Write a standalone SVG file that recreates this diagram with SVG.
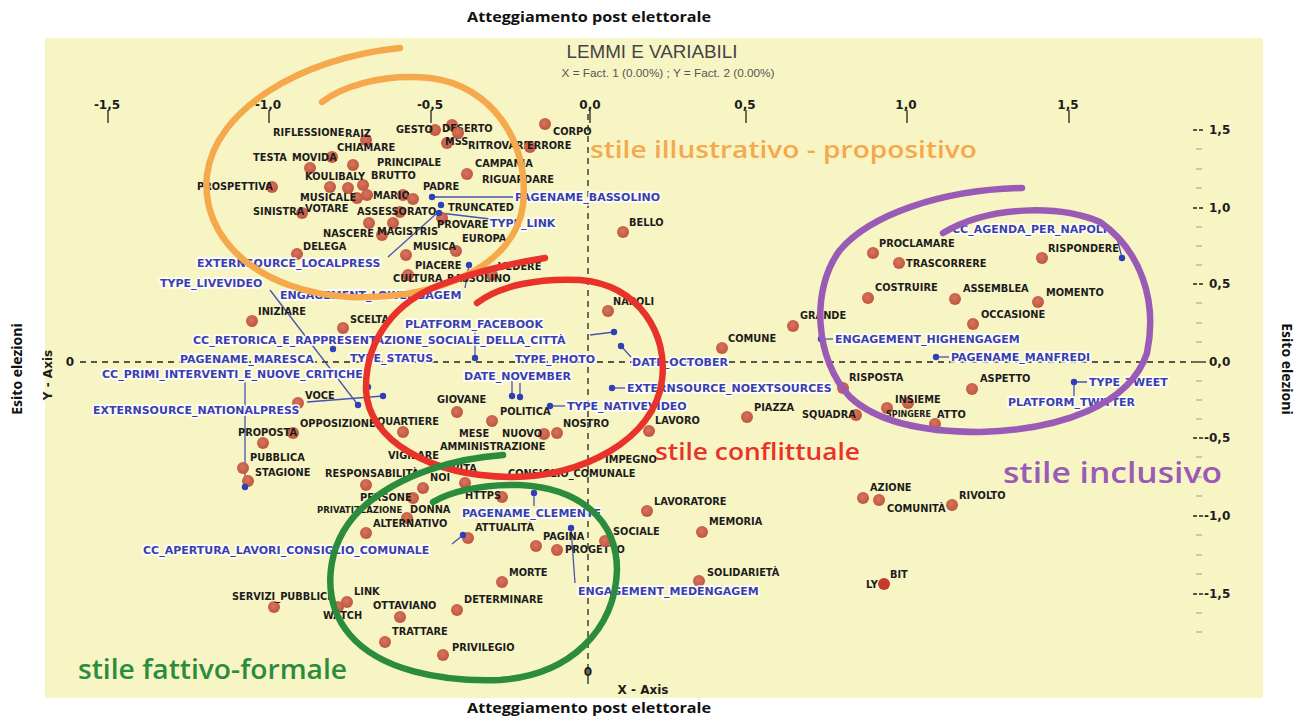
<svg xmlns="http://www.w3.org/2000/svg" width="1299" height="717" viewBox="0 0 1299 717">
<style>
.bg{fill:#f8f5c4}
.d{fill:url(#dg)}
.bd{fill:#2f3fb8}
.t{font-family:"DejaVu Sans",Verdana,sans-serif;font-weight:bold;font-size:9.8px;fill:#1c1c1c}
.v{font-family:"DejaVu Sans",Verdana,sans-serif;font-weight:bold;font-size:11px;fill:#3a3fb0;stroke:#ffffff;stroke-width:3.5px;stroke-opacity:.85;stroke-linejoin:round;paint-order:stroke}
.ln{stroke:#4652b4;stroke-width:1.3;fill:none}
.ax{stroke:#222;stroke-width:1.3;fill:none}
.dash{stroke:#222;stroke-width:1.3;stroke-dasharray:6 5;fill:none}
.tk{font-family:"DejaVu Sans",Verdana,sans-serif;font-weight:bold;font-size:12px;fill:#1c1c1c}
.ttl{font-family:"Open Sans",sans-serif;font-weight:bold;font-size:14px;fill:#111}
.st{font-family:"Open Sans",sans-serif;font-weight:600}
.loop{fill:none;stroke-width:6.5;stroke-linecap:round}
</style>
<defs>
<radialGradient id="dg" cx="0.45" cy="0.4" r="0.6">
<stop offset="0" stop-color="#d8745c"/>
<stop offset="1" stop-color="#bf5540"/>
</radialGradient>
</defs>
<rect x="0" y="0" width="1299" height="717" fill="#ffffff"/>
<rect class="bg" x="45" y="38" width="1218" height="660"/>

<!-- outer labels -->
<text class="ttl" x="589" y="22" text-anchor="middle" textLength="244" lengthAdjust="spacingAndGlyphs">Atteggiamento post elettorale</text>
<text class="ttl" x="589" y="713" text-anchor="middle" textLength="244" lengthAdjust="spacingAndGlyphs">Atteggiamento post elettorale</text>
<text class="ttl" transform="translate(22,369) rotate(-90)" text-anchor="middle">Esito elezioni</text>
<text class="ttl" transform="translate(1282,369) rotate(90)" text-anchor="middle">Esito elezioni</text>

<!-- title -->
<text x="652" y="58" text-anchor="middle" font-family="Liberation Sans, Arial, sans-serif" font-size="18" fill="#444" textLength="171" lengthAdjust="spacingAndGlyphs">LEMMI E VARIABILI</text>
<text x="668" y="77" text-anchor="middle" font-family="Liberation Sans, Arial, sans-serif" font-size="11" fill="#555" textLength="213" lengthAdjust="spacingAndGlyphs">X = Fact. 1 (0.00%) ; Y = Fact. 2 (0.00%)</text>

<!-- axes -->
<g id="axes">
<g class="tk" text-anchor="middle">
<text x="107" y="109">-1,5</text>
<text x="268" y="109">-1,0</text>
<text x="430" y="109">-0,5</text>
<text x="590" y="109">0,0</text>
<text x="745" y="109">0,5</text>
<text x="906" y="109">1,0</text>
<text x="1068" y="109">1,5</text>
</g>
<path class="ax" d="M108,110V123M269,110V123M431,110V123M590,110V123M746,110V123M907,110V123M1069,110V123"/>
<path class="dash" d="M80,362H1192"/>
<path class="ax" d="M1192,362H1206"/>
<path class="dash" d="M588,114V664"/>
<path class="ax" d="M588,664V684"/>
<text class="tk" x="70" y="366" text-anchor="middle" font-size="11">0</text>
<text class="tk" x="52" y="375" font-size="10.5" text-anchor="middle" transform="rotate(-90 52 375)">Y - Axis</text>
<text class="tk" x="643" y="694" font-size="10.5" text-anchor="middle">X - Axis</text>
<text class="tk" x="588" y="676" font-size="10.5" text-anchor="middle">0</text>
<path class="ax" d="M1193,130h4M1199,130h4M1193,208h4M1199,208h4M1193,284h4M1199,284h4M1193,438h4M1199,438h4M1193,516h4M1199,516h4M1193,594h4M1199,594h4"/>
<path stroke="#999" stroke-width="1" d="M1196,149h6M1196,169h6M1196,188h6M1196,227h6M1196,246h6M1196,265h6M1196,303h6M1196,323h6M1196,342h6M1196,381h6M1196,400h6M1196,419h6M1196,457h6M1196,477h6M1196,496h6M1196,535h6M1196,555h6M1196,574h6M1196,613h6M1196,632h6"/>
<g class="tk" font-size="11.5">
<text x="1209" y="134">1,5</text>
<text x="1209" y="212">1,0</text>
<text x="1209" y="288">0,5</text>
<text x="1209" y="366">0,0</text>
<text x="1204" y="442">-0,5</text>
<text x="1204" y="520">-1,0</text>
<text x="1204" y="598">-1,5</text>
</g>
</g>

<!-- connectors -->
<g id="connectors">
<path class="ln" d="M432,197H513"/>
<path class="ln" d="M440,213L490,219"/>
<path class="ln" d="M436,214L388,257"/>
<path class="ln" d="M270,290L358,405"/>
<path class="ln" d="M475,331V358"/>
<path class="ln" d="M590,335L614,332"/>
<path class="ln" d="M245,382V487"/>
<path class="ln" d="M512,381V396M520,383V397"/>
<path class="ln" d="M307,402L383,396"/>
<path class="ln" d="M550,406H565"/>
<path class="ln" d="M621,346L631,357"/>
<path class="ln" d="M612,388H625"/>
<path class="ln" d="M821,339H833"/>
<path class="ln" d="M936,357H949"/>
<path class="ln" d="M1116,234L1122,258"/>
<path class="ln" d="M1074,382H1087M1074,382V396"/>
<path class="ln" d="M534,493V506"/>
<path class="ln" d="M452,544L463,535"/>
<path class="ln" d="M571,528L575,583"/>
<path class="ln" d="M469,265L465,288"/>
</g>

<!-- lemma points -->
<g id="p-riflessione"><text class="t" x="273" y="135.5">RIFLESSIONE</text></g>
<g id="p-raiz"><circle class="d" cx="366" cy="140" r="6"/><text class="t" x="345" y="136.5">RAIZ</text></g>
<g id="p-chiamare"><circle class="d" cx="353" cy="165" r="6"/><text class="t" x="337" y="150.5">CHIAMARE</text></g>
<g id="p-testa"><circle class="d" cx="310" cy="168" r="6"/><text class="t" x="253" y="160.5">TESTA</text></g>
<g id="p-movida"><circle class="d" cx="332" cy="157" r="6"/><text class="t" x="292" y="160.5">MOVIDA</text></g>
<g id="p-principale"><circle class="d" cx="363" cy="185" r="6"/><text class="t" x="377" y="165.5">PRINCIPALE</text></g>
<g id="p-koulibaly"><circle class="d" cx="330" cy="187" r="6"/><text class="t" x="305" y="179.5">KOULIBALY</text></g>
<g id="p-brutto"><circle class="d" cx="348" cy="188" r="6"/><text class="t" x="371" y="178.5">BRUTTO</text></g>
<g id="p-prospettiva"><circle class="d" cx="272" cy="187" r="6"/><text class="t" x="197" y="189.5">PROSPETTIVA</text></g>
<g id="p-musicale"><circle class="d" cx="357" cy="198" r="6"/><text class="t" x="300" y="200.5">MUSICALE</text></g>
<g id="p-mario"><circle class="d" cx="403" cy="195" r="6"/><circle class="d" cx="367" cy="195" r="6"/><text class="t" x="373" y="198.5">MARIO</text></g>
<g id="p-padre"><circle class="d" cx="413" cy="199" r="6"/><text class="t" x="423" y="189.5">PADRE</text></g>
<g id="p-sinistra"><circle class="d" cx="302" cy="213" r="6"/><text class="t" x="253" y="214.5">SINISTRA</text></g>
<g id="p-votare"><circle class="d" cx="369" cy="223" r="6"/><text class="t" x="305" y="211.5">VOTARE</text></g>
<g id="p-assessorato"><circle class="d" cx="400" cy="212" r="6"/><text class="t" x="357" y="214.5">ASSESSORATO</text></g>
<g id="p-nascere"><circle class="d" cx="393" cy="223" r="6"/><text class="t" x="323" y="236.5">NASCERE</text></g>
<g id="p-magistris"><circle class="d" cx="382" cy="235" r="6"/><text class="t" x="377" y="234.5">MAGISTRIS</text></g>
<g id="p-delega"><circle class="d" cx="297" cy="254" r="6"/><text class="t" x="303" y="249.5">DELEGA</text></g>
<g id="p-musica"><circle class="d" cx="456" cy="251" r="6"/><text class="t" x="413" y="249.5">MUSICA</text></g>
<g id="p-piacere"><circle class="d" cx="406" cy="255" r="6"/><text class="t" x="415" y="268.5">PIACERE</text></g>
<g id="p-cultura"><circle class="d" cx="408" cy="275" r="6"/><text class="t" x="393" y="281.5">CULTURA</text></g>
<g id="p-bassolino"><circle class="d" cx="492" cy="275" r="6"/><text class="t" x="447" y="281.5">BASSOLINO</text></g>
<g id="p-gesto"><circle class="d" cx="435" cy="130" r="6"/><text class="t" x="396" y="132.5">GESTO</text></g>
<g id="p-deserto"><circle class="d" cx="452" cy="125" r="6"/><text class="t" x="442" y="131.5">DESERTO</text></g>
<g id="p-mss"><circle class="d" cx="447" cy="143" r="6"/><text class="t" x="445" y="144.5">MSS</text></g>
<g id="p-ritrovare"><circle class="d" cx="458" cy="133" r="6"/><text class="t" x="468" y="148.5">RITROVARE</text></g>
<g id="p-errore"><circle class="d" cx="530" cy="147" r="6"/><text class="t" x="527" y="148.5">ERRORE</text></g>
<g id="p-corpo"><circle class="d" cx="545" cy="124" r="6"/><text class="t" x="553" y="134.5">CORPO</text></g>
<g id="p-campania"><text class="t" x="475" y="166.5">CAMPANIA</text></g>
<g id="p-riguardare"><circle class="d" cx="467" cy="174" r="6"/><text class="t" x="482" y="182.5">RIGUARDARE</text></g>
<g id="p-truncated"><circle class="bd" cx="441" cy="205" r="3.2"/><text class="t" x="448" y="210.5">TRUNCATED</text></g>
<g id="p-provare"><circle class="d" cx="442" cy="218" r="6"/><text class="t" x="437" y="227.5">PROVARE</text></g>
<g id="p-europa"><text class="t" x="462" y="241.5">EUROPA</text></g>
<g id="p-vedere"><text class="t" x="498" y="269.5">VEDERE</text></g>
<g id="p-bello"><circle class="d" cx="623" cy="232" r="6"/><text class="t" x="629" y="225.5">BELLO</text></g>
<g id="p-iniziare"><circle class="d" cx="252" cy="321" r="6"/><text class="t" x="258" y="314.5">INIZIARE</text></g>
<g id="p-scelta"><circle class="d" cx="343" cy="328" r="6"/><text class="t" x="350" y="322.5">SCELTA</text></g>
<g id="p-voce"><circle class="d" cx="298" cy="403" r="6"/><text class="t" x="305" y="398.5">VOCE</text></g>
<g id="p-opposizione"><text class="t" x="300" y="426.5">OPPOSIZIONE</text></g>
<g id="p-quartiere"><circle class="d" cx="403" cy="432" r="6"/><text class="t" x="377" y="424.5">QUARTIERE</text></g>
<g id="p-proposta"><circle class="d" cx="293" cy="433" r="6"/><text class="t" x="238" y="435.5">PROPOSTA</text></g>
<g id="p-pubblica"><circle class="d" cx="263" cy="443" r="6"/><text class="t" x="250" y="460.5">PUBBLICA</text></g>
<g id="p-stagione"><circle class="d" cx="243" cy="468" r="6"/><circle class="d" cx="248" cy="481" r="6"/><text class="t" x="255" y="475.5">STAGIONE</text></g>
<g id="p-giovane"><circle class="d" cx="457" cy="412" r="6"/><text class="t" x="437" y="402.5">GIOVANE</text></g>
<g id="p-politica"><circle class="d" cx="492" cy="421" r="6"/><text class="t" x="500" y="414.5">POLITICA</text></g>
<g id="p-nostro"><circle class="d" cx="557" cy="433" r="6"/><text class="t" x="563" y="426.5">NOSTRO</text></g>
<g id="p-mese"><text class="t" x="459" y="436.5">MESE</text></g>
<g id="p-nuovo"><circle class="d" cx="544" cy="434" r="6"/><text class="t" x="502" y="436.5">NUOVO</text></g>
<g id="p-amministrazione"><text class="t" x="440" y="449.5">AMMINISTRAZIONE</text></g>
<g id="p-vigilare"><text class="t" x="388" y="458.5">VIGILARE</text></g>
<g id="p-responsabilita"><circle class="d" cx="366" cy="485" r="6"/><text class="t" x="325" y="476.5">RESPONSABILITÀ</text></g>
<g id="p-noi"><circle class="d" cx="423" cy="488" r="6"/><text class="t" x="430" y="480.5">NOI</text></g>
<g id="p-vita"><circle class="d" cx="465" cy="483" r="6"/><text class="t" x="452" y="471.5">VITA</text></g>
<g id="p-consiglio"><text class="t" x="508" y="476.5">CONSIGLIO_COMUNALE</text></g>
<g id="p-impegno"><text class="t" x="605" y="462.5">IMPEGNO</text></g>
<g id="p-https"><circle class="d" cx="502" cy="497" r="6"/><text class="t" x="465" y="498.5">HTTPS</text></g>
<g id="p-persone"><circle class="d" cx="413" cy="498" r="6"/><text class="t" x="360" y="500.5">PERSONE</text></g>
<g id="p-privatizzazione"><circle class="d" cx="366" cy="533" r="6"/><text class="t" x="317" y="512.5" style="font-size:8.5px">PRIVATIZZAZIONE</text></g>
<g id="p-donna"><text class="t" x="410" y="512.5">DONNA</text></g>
<g id="p-alternativo"><circle class="d" cx="407" cy="518" r="6"/><text class="t" x="373" y="526.5">ALTERNATIVO</text></g>
<g id="p-attualita"><circle class="d" cx="468" cy="538" r="6"/><text class="t" x="475" y="530.5">ATTUALITÀ</text></g>
<g id="p-pagina"><circle class="d" cx="536" cy="546" r="6"/><text class="t" x="543" y="539.5">PAGINA</text></g>
<g id="p-progetto"><circle class="d" cx="557" cy="550" r="6"/><text class="t" x="565" y="552.5">PROGETTO</text></g>
<g id="p-sociale"><circle class="d" cx="605" cy="541" r="6"/><text class="t" x="613" y="534.5">SOCIALE</text></g>
<g id="p-lavoratore"><circle class="d" cx="647" cy="511" r="6"/><text class="t" x="654" y="504.5">LAVORATORE</text></g>
<g id="p-memoria"><circle class="d" cx="702" cy="532" r="6"/><text class="t" x="709" y="524.5">MEMORIA</text></g>
<g id="p-solidarieta"><circle class="d" cx="699" cy="581" r="6"/><text class="t" x="707" y="575.5">SOLIDARIETÀ</text></g>
<g id="p-morte"><circle class="d" cx="502" cy="582" r="6"/><text class="t" x="509" y="575.5">MORTE</text></g>
<g id="p-determinare"><circle class="d" cx="457" cy="610" r="6"/><text class="t" x="464" y="602.5">DETERMINARE</text></g>
<g id="p-servizi"><circle class="d" cx="274" cy="607" r="6"/><text class="t" x="232" y="599.5">SERVIZI_PUBBLICI</text></g>
<g id="p-link"><circle class="d" cx="347" cy="602" r="6"/><text class="t" x="354" y="594.5">LINK</text></g>
<g id="p-watch"><circle class="d" cx="338" cy="607" r="6"/><text class="t" x="323" y="618.5">WATCH</text></g>
<g id="p-ottaviano"><circle class="d" cx="400" cy="617" r="6"/><text class="t" x="373" y="608.5">OTTAVIANO</text></g>
<g id="p-trattare"><circle class="d" cx="385" cy="642" r="6"/><text class="t" x="392" y="634.5">TRATTARE</text></g>
<g id="p-privilegio"><circle class="d" cx="443" cy="655" r="6"/><text class="t" x="452" y="650.5">PRIVILEGIO</text></g>
<g id="p-napoli"><circle class="d" cx="608" cy="311" r="6"/><text class="t" x="613" y="304.5">NAPOLI</text></g>
<g id="p-comune"><circle class="d" cx="722" cy="348" r="6"/><text class="t" x="728" y="341.5">COMUNE</text></g>
<g id="p-grande"><circle class="d" cx="793" cy="326" r="6"/><text class="t" x="800" y="318.5">GRANDE</text></g>
<g id="p-lavoro"><circle class="d" cx="649" cy="431" r="6"/><text class="t" x="655" y="423.5">LAVORO</text></g>
<g id="p-piazza"><circle class="d" cx="747" cy="417" r="6"/><text class="t" x="754" y="410.5">PIAZZA</text></g>
<g id="p-squadra"><circle class="d" cx="856" cy="415" r="6"/><text class="t" x="802" y="417.5">SQUADRA</text></g>
<g id="p-risposta"><circle class="d" cx="843" cy="388" r="6"/><text class="t" x="849" y="380.5">RISPOSTA</text></g>
<g id="p-proclamare"><circle class="d" cx="873" cy="253" r="6"/><text class="t" x="879" y="246.5">PROCLAMARE</text></g>
<g id="p-rispondere"><circle class="d" cx="1042" cy="258" r="6"/><text class="t" x="1048" y="251.5">RISPONDERE</text></g>
<g id="p-trascorrere"><circle class="d" cx="899" cy="263" r="6"/><text class="t" x="906" y="266.5">TRASCORRERE</text></g>
<g id="p-costruire"><circle class="d" cx="868" cy="298" r="6"/><text class="t" x="875" y="290.5">COSTRUIRE</text></g>
<g id="p-assemblea"><circle class="d" cx="955" cy="299" r="6"/><text class="t" x="963" y="291.5">ASSEMBLEA</text></g>
<g id="p-momento"><circle class="d" cx="1038" cy="302" r="6"/><text class="t" x="1046" y="295.5">MOMENTO</text></g>
<g id="p-occasione"><circle class="d" cx="973" cy="324" r="6"/><text class="t" x="981" y="317.5">OCCASIONE</text></g>
<g id="p-aspetto"><circle class="d" cx="972" cy="389" r="6"/><text class="t" x="980" y="381.5">ASPETTO</text></g>
<g id="p-insieme"><circle class="d" cx="908" cy="403" r="6"/><text class="t" x="895" y="402.5">INSIEME</text></g>
<g id="p-spingere"><circle class="d" cx="887" cy="408" r="6"/><text class="t" x="886" y="416.5" style="font-size:8px">SPINGERE</text></g>
<g id="p-atto"><circle class="d" cx="935" cy="424" r="6"/><text class="t" x="937" y="417.5">ATTO</text></g>
<g id="p-azione"><circle class="d" cx="863" cy="498" r="6"/><text class="t" x="870" y="490.5">AZIONE</text></g>
<g id="p-comunita"><circle class="d" cx="879" cy="500" r="6"/><text class="t" x="887" y="511.5">COMUNITÀ</text></g>
<g id="p-rivolto"><circle class="d" cx="952" cy="505" r="6"/><text class="t" x="959" y="498.5">RIVOLTO</text></g>
<g id="p-bit"><circle cx="884" cy="584" r="6" fill="#c43a30"/><text class="t" x="890" y="577.5">BIT</text></g>
<g id="p-ly"><text class="t" x="866" y="587.5">LY</text></g>

<!-- variable points -->
<g id="v-bassolino"><circle class="bd" cx="432" cy="197" r="3.2"/><text class="v" x="515" y="201">PAGENAME_BASSOLINO</text></g>
<g id="v-link"><circle class="bd" cx="439" cy="213" r="3.2"/><text class="v" x="490" y="227">TYPE_LINK</text></g>
<g id="v-localpress"><text class="v" x="197" y="267">EXTERNSOURCE_LOCALPRESS</text></g>
<g id="v-livevideo"><circle class="bd" cx="358" cy="405" r="3.2"/><text class="v" x="160" y="287">TYPE_LIVEVIDEO</text></g>
<g id="v-lowengagem"><circle class="bd" cx="469" cy="265" r="3.2"/><text class="v" x="280" y="299">ENGAGEMENT_LOWENGAGEM</text></g>
<g id="v-facebook"><circle class="bd" cx="475" cy="358" r="3.2"/><text class="v" x="405" y="328">PLATFORM_FACEBOOK</text></g>
<g id="v-retorica"><circle class="bd" cx="614" cy="332" r="3.2"/><text class="v" x="193" y="344">CC_RETORICA_E_RAPPRESENTAZIONE_SOCIALE_DELLA_CITTÀ</text></g>
<g id="v-maresca"><circle class="bd" cx="333" cy="349" r="3.2"/><text class="v" x="180" y="363">PAGENAME_MARESCA</text></g>
<g id="v-status"><circle class="bd" cx="368" cy="387" r="3.2"/><text class="v" x="350" y="362">TYPE_STATUS</text></g>
<g id="v-photo"><circle class="bd" cx="520" cy="397" r="3.2"/><text class="v" x="515" y="363">TYPE_PHOTO</text></g>
<g id="v-primi"><circle class="bd" cx="245" cy="487" r="3.2"/><text class="v" x="102" y="378">CC_PRIMI_INTERVENTI_E_NUOVE_CRITICHE</text></g>
<g id="v-november"><circle class="bd" cx="512" cy="396" r="3.2"/><text class="v" x="464" y="380">DATE_NOVEMBER</text></g>
<g id="v-nationalpress"><circle class="bd" cx="383" cy="396" r="3.2"/><text class="v" x="93" y="414">EXTERNSOURCE_NATIONALPRESS</text></g>
<g id="v-nativevideo"><circle class="bd" cx="550" cy="406" r="3.2"/><text class="v" x="567" y="410">TYPE_NATIVEVIDEO</text></g>
<g id="v-october"><circle class="bd" cx="621" cy="346" r="3.2"/><text class="v" x="632" y="366">DATE_OCTOBER</text></g>
<g id="v-noext"><circle class="bd" cx="612" cy="388" r="3.2"/><text class="v" x="627" y="392">EXTERNSOURCE_NOEXTSOURCES</text></g>
<g id="v-high"><circle class="bd" cx="821" cy="339" r="3.2"/><text class="v" x="835" y="343">ENGAGEMENT_HIGHENGAGEM</text></g>
<g id="v-manfredi"><circle class="bd" cx="936" cy="357" r="3.2"/><text class="v" x="951" y="361">PAGENAME_MANFREDI</text></g>
<g id="v-agenda"><circle class="bd" cx="1122" cy="258" r="3.2"/><text class="v" x="952" y="233">CC_AGENDA_PER_NAPOLI</text></g>
<g id="v-tweet"><circle class="bd" cx="1074" cy="382" r="3.2"/><text class="v" x="1089" y="386">TYPE_TWEET</text></g>
<g id="v-twitter"><text class="v" x="1008" y="406">PLATFORM_TWITTER</text></g>
<g id="v-clemente"><circle class="bd" cx="534" cy="493" r="3.2"/><text class="v" x="462" y="517">PAGENAME_CLEMENTE</text></g>
<g id="v-apertura"><circle class="bd" cx="463" cy="535" r="3.2"/><text class="v" x="143" y="554">CC_APERTURA_LAVORI_CONSIGLIO_COMUNALE</text></g>
<g id="v-medengagem"><circle class="bd" cx="571" cy="528" r="3.2"/><text class="v" x="578" y="595">ENGAGEMENT_MEDENGAGEM</text></g>

<!-- hand-drawn style loops -->
<g id="loops">
<path class="loop" stroke="#f5a94c" d="M400,48 C300,58 215,110 207,175 C200,240 260,292 350,297 C440,300 515,265 523,205 C530,140 490,85 430,78 C380,73 340,88 322,102"/>
<path class="loop" stroke="#e8322a" d="M477,303 C500,285 540,278 580,280 C640,285 668,335 662,380 C655,440 580,478 510,477 C430,476 368,440 366,390 C365,335 400,300 440,285 C480,270 520,262 545,258"/>
<path class="loop" stroke="#2a8c3c" d="M503,455 C460,458 400,472 360,510 C325,545 320,600 350,635 C380,670 440,682 500,680 C570,675 615,630 617,570 C617,520 580,488 520,485 C480,484 450,492 433,502"/>
<path class="loop" stroke="#9a5bb6" d="M1022,188 C940,190 870,215 840,250 C810,290 815,360 850,397 C880,425 930,432 980,432 C1060,430 1130,405 1147,353 C1158,300 1140,250 1100,222 C1060,205 990,205 943,233"/>
</g>

<!-- style labels -->
<text class="st" x="590" y="158" font-size="23" style="fill:#f5a94c" textLength="387" lengthAdjust="spacingAndGlyphs">stile illustrativo - propositivo</text>
<text class="st" x="655" y="460" font-size="23" style="fill:#e8322a" textLength="205" lengthAdjust="spacingAndGlyphs">stile conflittuale</text>
<text class="st" x="1003" y="483" font-size="28" style="fill:#9a5bb6" textLength="219" lengthAdjust="spacingAndGlyphs">stile inclusivo</text>
<text class="st" x="78" y="679" font-size="27" style="fill:#2a8c3c" textLength="269" lengthAdjust="spacingAndGlyphs">stile fattivo-formale</text>
</svg>
